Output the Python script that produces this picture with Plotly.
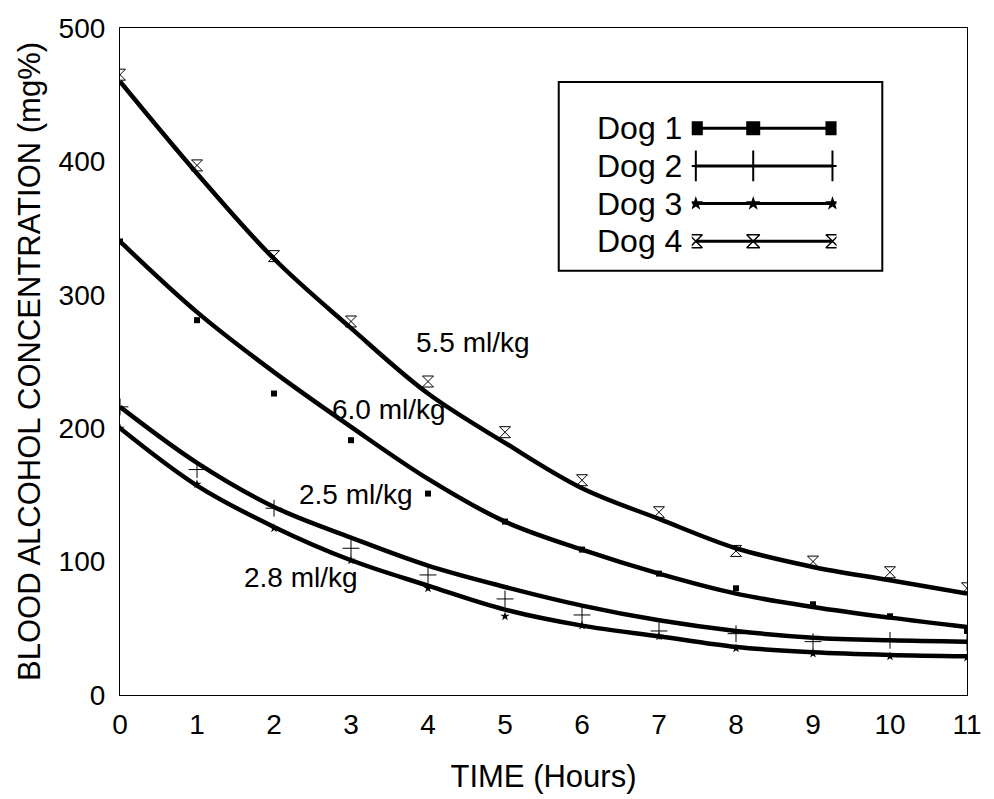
import plotly.graph_objects as go

# ---- data -------------------------------------------------------------
hours = [0, 1, 2, 3, 4, 5, 6, 7, 8, 9, 10, 11]

# measured blood alcohol concentration (mg%)
dog1_points = [340, 281, 226, 191, 151, 130, 109, 91, 80, 68, 59, 48]
dog2_points = [216, 169, 140, 110, 90, 72, 60, 48, 46, 40, 41, 39]
dog3_points = [200, 158, 125, 101, 80, 59, 52, 44, 35, 31, 29, 28]
dog4_points = [465, 397, 329, 280, 235, 197, 161, 137, 108, 100, 92, 80]

# smoothed elimination curves (mg%)
dog1_curve = [340, 287, 242, 201, 162, 130, 109, 91, 76, 66, 58, 51]
dog2_curve = [216, 174, 141, 118, 97, 81, 67, 56, 48, 43, 41, 40]
dog3_curve = [200, 157, 126, 101, 82, 64, 52, 44, 36, 32, 30, 29]
dog4_curve = [460, 391, 327, 275, 226, 189, 155, 132, 110, 96, 86, 76]

dog_names = ["Dog 1", "Dog 2", "Dog 3", "Dog 4"]
dose_labels = ["6.0 ml/kg", "2.5 ml/kg", "2.8 ml/kg", "5.5 ml/kg"]
dose_label_x = [3.49, 3.06, 2.35, 4.59]
dose_label_y = [214, 150, 88, 264]

x_ticks = list(range(0, 12))
y_ticks = [0, 100, 200, 300, 400, 500]

# ---- styling ----------------------------------------------------------
FONT = "Liberation Sans, Arial, Helvetica, sans-serif"
INK = "black"

point_style = [
    dict(symbol="square", size=6, color=INK),
    dict(symbol="cross-thin-open", size=12, color=INK, line=dict(width=1, color=INK)),
    dict(symbol="star", size=7, color=INK),
    dict(symbol="hourglass-open", size=11, color=INK, line=dict(width=1, color=INK)),
]
key_style = [
    dict(symbol="square", size=14, color=INK),
    dict(symbol="cross-thin-open", size=22, color=INK, line=dict(width=2, color=INK)),
    dict(symbol="star", size=11, color=INK),
    dict(symbol="hourglass-open", size=13, color=INK, line=dict(width=1.5, color=INK)),
]

points = [dog1_points, dog2_points, dog3_points, dog4_points]
curves = [dog1_curve, dog2_curve, dog3_curve, dog4_curve]

fig = go.Figure()

for name, pts, crv, mk in zip(dog_names, points, curves, point_style):
    fig.add_trace(go.Scatter(
        x=hours, y=crv, mode="lines", name=name, showlegend=False,
        line=dict(color=INK, width=4.5, shape="spline", smoothing=1.0),
        hoverinfo="skip",
    ))
    fig.add_trace(go.Scatter(
        x=hours, y=pts, mode="markers", name=name, showlegend=False,
        marker=mk,
    ))

# dose labels next to each curve
for txt, lx, ly in zip(dose_labels, dose_label_x, dose_label_y):
    fig.add_annotation(x=lx, y=ly, text=txt, showarrow=False,
                       font=dict(family=FONT, size=28, color=INK))

# ---- key box (name on the left, sample line on the right) -------------
key_x = [0, 0.42, 1]
key_rows = [1, 2, 3, 4]
for name, row, mk in zip(dog_names, key_rows, key_style):
    fig.add_trace(go.Scatter(
        x=key_x, y=[row] * len(key_x), xaxis="x2", yaxis="y2",
        mode="lines+markers", showlegend=False, hoverinfo="skip",
        line=dict(color=INK, width=3), marker=mk,
    ))

KEY_X0, KEY_X1 = 0.518, 0.900
KEY_Y0, KEY_Y1 = 0.636, 0.919
ROW_TOP, ROW_BOT = 0.850, 0.680
fig.add_shape(type="rect", xref="paper", yref="paper",
              x0=KEY_X0, x1=KEY_X1, y0=KEY_Y0, y1=KEY_Y1,
              line=dict(color=INK, width=2), fillcolor="white", layer="below")
for i, name in enumerate(dog_names):
    fig.add_annotation(
        xref="paper", yref="paper",
        x=0.666, y=ROW_TOP - i * (ROW_TOP - ROW_BOT) / 3,
        xanchor="right", yanchor="middle", text=name, showarrow=False,
        font=dict(family=FONT, size=32, color=INK),
    )

# ---- layout -----------------------------------------------------------
fig.update_layout(
    width=994, height=799,
    margin=dict(l=120, r=19, t=28, b=103),
    paper_bgcolor="white", plot_bgcolor="white",
    font=dict(family=FONT, color=INK),
    showlegend=False,
    xaxis=dict(
        range=[0, 11], tickvals=x_ticks, ticks="", showgrid=False,
        zeroline=False, showline=True, mirror=True,
        linecolor=INK, linewidth=1.2,
        tickfont=dict(size=28), ticklabelstandoff=4,
        title=dict(text="TIME (Hours)", font=dict(size=31), standoff=26),
    ),
    yaxis=dict(
        range=[0, 500], tickvals=y_ticks, ticks="", showgrid=False,
        zeroline=False, showline=True, mirror=True,
        linecolor=INK, linewidth=1.2,
        tickfont=dict(size=28), ticklabelstandoff=8,
        title=dict(text="BLOOD ALCOHOL CONCENTRATION (mg%)",
                   font=dict(size=31), standoff=8),
    ),
    xaxis2=dict(domain=[0.675, 0.846], range=[-0.03, 1.03], visible=False,
                anchor="y2"),
    yaxis2=dict(domain=[ROW_BOT - 0.028, ROW_TOP + 0.028],
                range=[4.5, 0.5], visible=False, anchor="x2"),
)

fig.write_html("out.html")
